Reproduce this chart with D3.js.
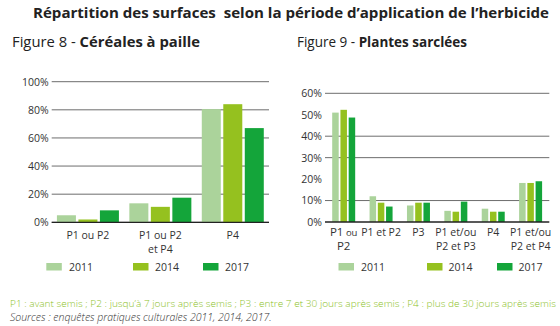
<!DOCTYPE html>
<html><head><meta charset="utf-8">
<script src="https://cdn.jsdelivr.net/npm/d3@7"></script>
<style>
html,body{margin:0;padding:0;background:#fff;}
svg{display:block;font-family:"Open Sans",sans-serif;}
</style></head>
<body><svg id="c" width="560" height="326"></svg>
<script>
const years = ["2011","2014","2017"];
const colors = ["#abd39b","#95c11f","#14a53a"];

const cat8 = [["P1 ou P2"],["P1 ou P2","et P4"],["P4"]];
const v8_2011 = [5, 13.5, 80.5];
const v8_2014 = [2, 11, 84];
const v8_2017 = [8.5, 17.5, 67];
const ticks8 = [0,20,40,60,80,100];

const cat9 = [["P1 ou","P2"],["P1 et P2"],["P3"],["P1 et/ou","P2 et P3"],["P4"],["P1 et/ou","P2 et P4"]];
const v9_2011 = [51, 12, 7.7, 5.2, 6.2, 18.2];
const v9_2014 = [52.3, 9, 9, 4.8, 4.8, 18.2];
const v9_2017 = [48.7, 7.2, 9, 9.5, 4.8, 19];
const ticks9 = [0,10,20,30,40,50,60];
const grid9 = [10,30,40,60];

const title = "Répartition des surfaces  selon la période d’application de l’herbicide";
const note = "P1 : avant semis ; P2 : jusqu’à 7 jours après semis ; P3 : entre 7 et 30 jours après semis ; P4 : plus de 30 jours après semis";
const source = "Sources : enquêtes pratiques culturales 2011, 2014, 2017.";

const svg = d3.select("#c");

svg.append("text").attr("x",33).attr("y",18).attr("font-size",14).attr("font-weight","bold")
  .attr("fill","#222").style("white-space","pre")
  .attr("textLength",516).attr("lengthAdjust","spacingAndGlyphs").text(title);

function sub(x, a, b, w){
  const t = svg.append("text").attr("x",x).attr("y",47).attr("font-size",14).attr("fill","#222")
    .attr("textLength",w).attr("lengthAdjust","spacingAndGlyphs");
  t.append("tspan").text(a);
  t.append("tspan").attr("font-weight","bold").text(b);
}
sub(12,"Figure 8 - ","Céréales à paille",188);
sub(297,"Figure 9 - ","Plantes sarclées",170);

function chart(o){
  const {cats, series, y0, y1, max, x0, x1, pad, ipad, ticks, grid, labelY, firstBig} = o;
  const y = d3.scaleLinear().domain([0,max]).range([y0,y1]);
  const x = d3.scaleBand().domain(d3.range(cats.length)).range([x0,x1]).paddingInner(pad).paddingOuter(pad/2);
  const xi = d3.scaleBand().domain(years).range([0,x.bandwidth()]).paddingInner(ipad);
  const g = svg.append("g");
  g.selectAll("line.grid").data(grid).join("line")
    .attr("x1",x0).attr("x2",x1).attr("y1",d=>y(d)).attr("y2",d=>y(d))
    .attr("stroke","#6d6d6d").attr("stroke-width",1);
  const ax = d3.axisLeft(y).tickValues(ticks).tickFormat(d=>d+"%").tickSize(0).tickPadding(0);
  const ag = g.append("g").attr("transform",`translate(${x0-3},0)`).call(ax);
  ag.select(".domain").remove();
  ag.selectAll("text").attr("font-size",10.5).attr("fill","#333").attr("font-family","Open Sans");
  cats.forEach((c,i)=>{
    years.forEach((yr,j)=>{
      g.append("rect").attr("x",x(i)+xi(yr)).attr("width",xi.bandwidth())
        .attr("y",y(series[j][i])).attr("height",y(0)-y(series[j][i])).attr("fill",colors[j]);
    });
  });
  g.append("line").attr("x1",x0).attr("x2",x1).attr("y1",y(0)).attr("y2",y(0))
    .attr("stroke","#222").attr("stroke-width",1.3);
  cats.forEach((c,i)=>{
    const cx = x(i)+x.bandwidth()/2;
    c.forEach((line,k)=>{
      const t = g.append("text").attr("text-anchor","middle").attr("x",cx).attr("y",labelY+k*13.5)
        .attr("font-size",10.5).attr("fill","#333");
      if(firstBig && i===0){
        const parts = line.split(" ");
        t.append("tspan").attr("font-size",11.5).text(parts[0]);
        if(parts[1]) t.append("tspan").attr("font-size",9.5).text(" "+parts[1]);
      } else t.text(line);
    });
  });
}

chart({cats:cat8, series:[v8_2011,v8_2014,v8_2017], y0:222.3, y1:81.7, max:100,
  x0:51.7, x1:269, pad:0.144, ipad:0.116, ticks:ticks8, grid:ticks8, labelY:239, firstBig:false});
chart({cats:cat9, series:[v9_2011,v9_2014,v9_2017], y0:222, y1:93.3, max:60,
  x0:325, x1:549.3, pad:0.385, ipad:0.21, ticks:ticks9, grid:grid9, labelY:236, firstBig:true});

function legend(items){
  items.forEach((p,j)=>{
    svg.append("rect").attr("x",p[0]).attr("y",263).attr("width",15.5).attr("height",7.5).attr("fill",colors[j]);
    svg.append("text").attr("x",p[1]).attr("y",270.5).attr("font-size",10.5).attr("fill","#333").text(years[j]);
  });
}
legend([[46.3,69],[133,155],[203,225]]);
legend([[338.5,361],[427,448.5],[497,518.5]]);

svg.append("text").attr("x",10).attr("y",306.5).attr("font-size",9.2).attr("fill","#8dc21f")
  .attr("font-weight",300).attr("textLength",546).attr("lengthAdjust","spacingAndGlyphs").text(note);
svg.append("text").attr("x",10).attr("y",320.5).attr("font-size",10.5).attr("font-style","italic")
  .attr("font-weight",300).attr("fill","#333").text(source);
</script></body></html>
